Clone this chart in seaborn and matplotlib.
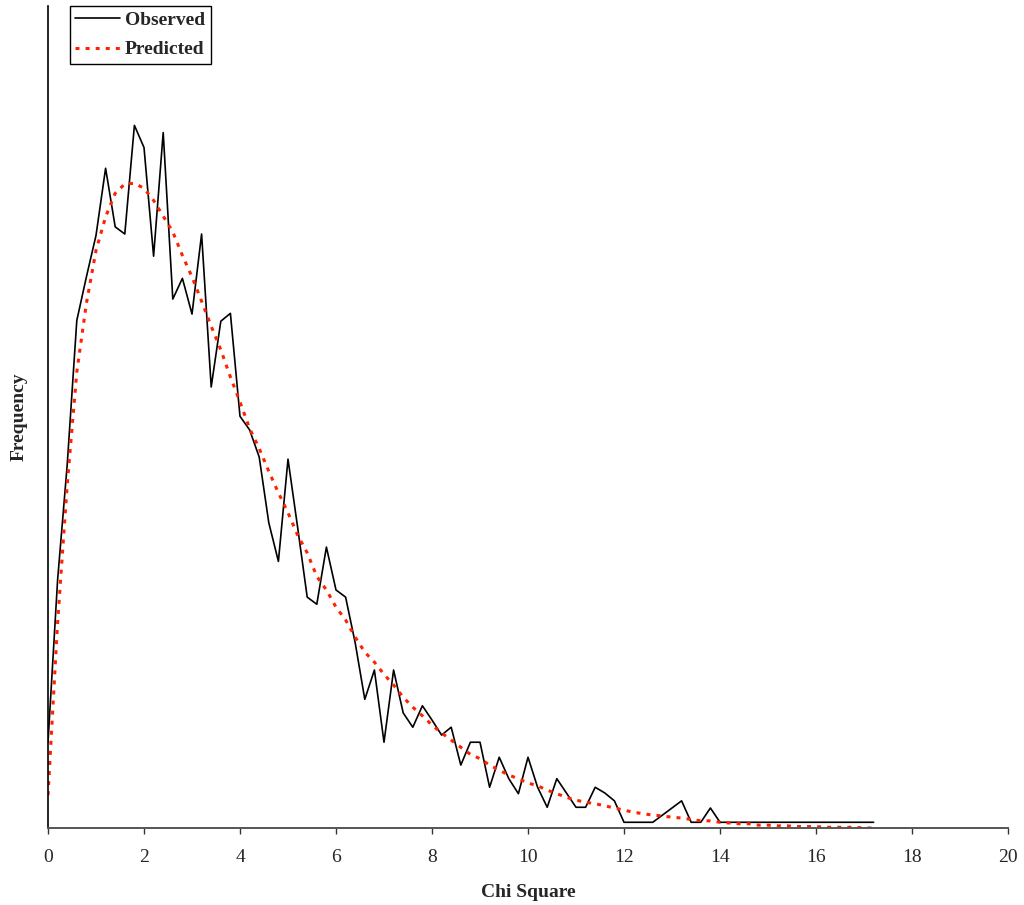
import numpy as np
import pandas as pd
import matplotlib
matplotlib.use("Agg")
import matplotlib.pyplot as plt
import seaborn as sns

# chi square bins, 0.0 .. 17.2 in steps of 0.2
chi_sq = [round(0.2 * i, 1) for i in range(87)]

observed = [
    12.0, 34.7, 50.8, 71.0, 77.1, 82.9, 92.3, 84.1, 83.1, 98.3,
    95.2, 80.0, 97.3, 74.0, 76.9, 71.9, 83.1, 61.7, 70.9, 72.0,
    57.6, 55.7, 51.9, 42.7, 37.3, 51.6, 42.1, 32.3, 31.3, 39.3,
    33.3, 32.3, 25.9, 18.0, 22.1, 12.0, 22.1, 16.1, 14.1, 17.1,
    15.1, 13.0, 14.1, 8.8, 12.0, 12.0, 5.7, 9.9, 6.9, 4.8,
    9.9, 5.7, 2.9, 6.9, 4.9, 2.9, 2.9, 5.7, 4.9, 3.8,
    0.8, 0.8, 0.8, 0.8, 1.8, 2.8, 3.8, 0.8, 0.8, 2.8,
    0.8, 0.8, 0.8, 0.8, 0.8, 0.8, 0.8, 0.8, 0.8, 0.8,
    0.8, 0.8, 0.8, 0.8, 0.8, 0.8, 0.8,
]

predicted = [
    4.6, 28.7, 48.0, 63.8, 73.4, 80.8, 85.5, 88.8, 90.1, 90.2,
    89.5, 87.8, 85.6, 83.4, 80.1, 77.1, 73.7, 70.2, 66.9, 63.1,
    59.6, 55.9, 53.1, 49.9, 46.9, 44.1, 41.0, 38.5, 35.2, 33.3,
    30.9, 29.1, 26.7, 24.6, 23.2, 21.5, 20.0, 18.3, 16.9, 15.7,
    14.4, 13.3, 12.3, 11.3, 10.3, 9.7, 8.8, 8.1, 7.4, 6.9,
    6.3, 5.9, 5.3, 4.8, 4.3, 3.9, 3.6, 3.4, 3.1, 2.8,
    2.5, 2.2, 2.0, 1.8, 1.7, 1.5, 1.4, 1.2, 1.0, 1.0,
    0.8, 0.7, 0.6, 0.6, 0.4, 0.4, 0.3, 0.3, 0.2, 0.2,
    0.2, 0.1, 0.1, 0.1, 0.1, 0.0, 0.0,
]

df = pd.DataFrame({
    "Chi Square": chi_sq * 2,
    "Frequency": observed + predicted,
    "series": ["Observed"] * len(chi_sq) + ["Predicted"] * len(chi_sq),
})

sns.set_style("white")
plt.rcParams["font.family"] = ["Liberation Serif", "DejaVu Serif"]

fig = plt.figure(figsize=(10.24, 9.05), dpi=100)
ax = fig.add_axes([48 / 1024, 77 / 905, 960 / 1024, 822 / 905])

sns.lineplot(data=df[df.series == "Observed"], x="Chi Square", y="Frequency",
             color="black", linewidth=1.2, label="Observed", ax=ax)
sns.lineplot(data=df[df.series == "Predicted"], x="Chi Square", y="Frequency",
             color="#ff2200", linewidth=2.2, linestyle=(0, (1.3, 2.0)),
             label="Predicted", ax=ax)

ax.set_xlim(0, 20)
ax.set_ylim(0, 115)
ax.set_xticks(np.arange(0, 21, 2))
ax.set_yticks([])

for side in ["top", "right"]:
    ax.spines[side].set_visible(False)
ax.spines["left"].set_color("black")
ax.spines["left"].set_linewidth(1.2)
ax.spines["bottom"].set_color("#555555")
ax.spines["bottom"].set_linewidth(1.4)

ax.tick_params(axis="x", direction="out", length=4.3, width=1.0,
               color="#333333", pad=11, labelsize=14, bottom=True)

ax.set_xlabel("Chi Square", fontsize=14, fontweight="bold", labelpad=13)
ax.set_ylabel("Frequency", fontsize=14, fontweight="bold", labelpad=15)

leg = ax.legend(loc="upper left", bbox_to_anchor=(22 / 960, 1.0), borderaxespad=0,
                prop={"size": 14, "weight": "bold"}, frameon=True, fancybox=False,
                framealpha=1, edgecolor="black", handlelength=2.3,
                handletextpad=0.25, labelspacing=0.6, borderpad=0.28)
leg.get_frame().set_linewidth(1.0)

fig.savefig("out.png", dpi=100)
